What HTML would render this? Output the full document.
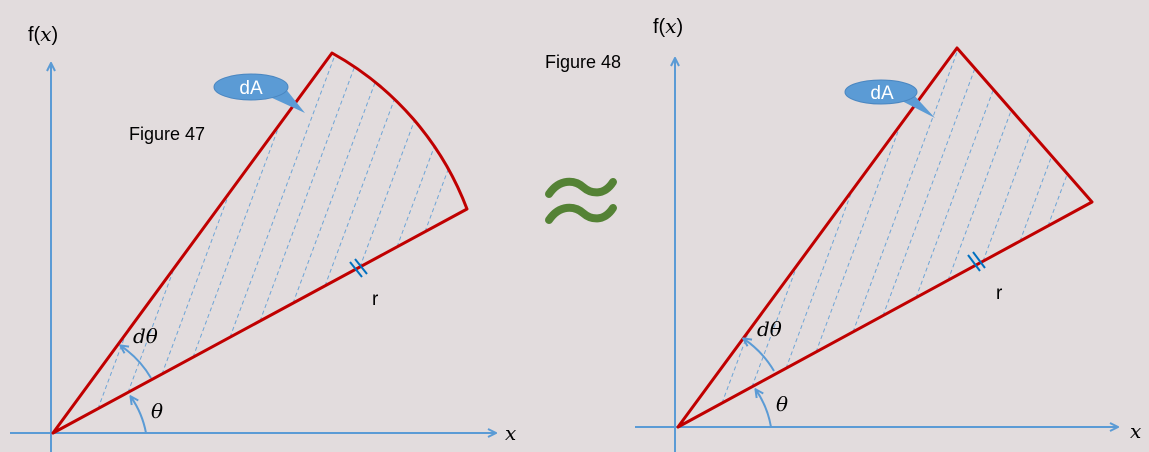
<!DOCTYPE html>
<html><head><meta charset="utf-8"><style>
html,body{margin:0;padding:0;background:#e2dcdd;}
svg{display:block;font-family:"Liberation Sans","DejaVu Sans",sans-serif;}
.ax{stroke:#5b9bd5;stroke-width:2;fill:none}
.red{stroke:#c00000;stroke-width:3;fill:none;stroke-linejoin:round}
.hatch{stroke:#5b9bd5;stroke-width:1;stroke-dasharray:4 3;fill:none;opacity:0.85}
.math{font-family:"DejaVu Serif","Liberation Serif",serif;font-style:italic;font-size:20px;fill:#000}
</style></head><body>
<svg id="s" width="1149" height="452" viewBox="0 0 1149 452">
<defs>
<marker id="ah" markerWidth="10" markerHeight="10" refX="8" refY="5" orient="auto" markerUnits="userSpaceOnUse"><path d="M1,1 L9,5 L1,9" fill="none" stroke="#5b9bd5" stroke-width="2"/></marker>
<clipPath id="c1"><path d="M53,433 L332,53 A300,300 0 0 1 467,209 Z"/></clipPath>
<clipPath id="c2"><path d="M678,427 L957,48 L1092,202 Z"/></clipPath>
</defs>
<g>
<line class="ax" x1="51" y1="452" x2="51" y2="64" marker-end="url(#ah)"/>
<line class="ax" x1="10" y1="433" x2="495" y2="433" marker-end="url(#ah)"/>
<g id="h1" clip-path="url(#c1)"></g>
<path class="red" d="M53,433 L332,53 A300,300 0 0 1 467,209 Z"/>
<path d="M146,433 A93,93 0 0 0 131,397" class="ax" stroke-width="3" marker-end="url(#ah)"/>
<path d="M151,378 A100,100 0 0 0 121,346" class="ax" stroke-width="3" marker-end="url(#ah)"/>
<line x1="350" y1="262" x2="362" y2="277" stroke="#0070c0" stroke-width="2"/><line x1="355" y1="259" x2="367" y2="274" stroke="#0070c0" stroke-width="2"/>
<path d="M270,97 L305,113 L285,88 Z" fill="#5b9bd5"/>
<ellipse cx="251" cy="87" rx="37" ry="13" fill="#5b9bd5" stroke="#4a86c0"/>
<text x="251" y="94" font-size="19" fill="#fff" text-anchor="middle">dA</text>
<text x="129" y="140" font-size="18">Figure 47</text>
<text x="28" y="41" font-size="20">f(<tspan class="math">x</tspan>)</text>
<text x="151" y="418" class="math">θ</text>
<text x="133" y="343" class="math">dθ</text>
<text x="372" y="305" font-size="19">r</text>
</g>
<g fill="none" stroke="#548235" stroke-width="8" stroke-linecap="round">
<path d="M549,194 C560,178 575,180 583,187 C591,194 604,196 613,182"/>
<path d="M549,220 C560,204 575,206 583,213 C591,220 604,222 613,208"/>
</g>
<text x="545" y="68" font-size="18">Figure 48</text>
<g>
<line class="ax" x1="675" y1="452" x2="675" y2="59" marker-end="url(#ah)"/>
<line class="ax" x1="635" y1="427" x2="1117" y2="427" marker-end="url(#ah)"/>
<g id="h2" clip-path="url(#c2)"></g>
<path class="red" d="M678,427 L957,48 L1092,202 Z"/>
<path d="M771,427 A93,93 0 0 0 756,390" class="ax" stroke-width="3" marker-end="url(#ah)"/>
<path d="M774,371 A100,100 0 0 0 744,339" class="ax" stroke-width="3" marker-end="url(#ah)"/>
<line x1="968" y1="255" x2="980" y2="271" stroke="#0070c0" stroke-width="2"/><line x1="973" y1="252" x2="985" y2="268" stroke="#0070c0" stroke-width="2"/>
<path d="M900,100 L935,118 L912,93 Z" fill="#5b9bd5"/>
<ellipse cx="881" cy="92" rx="36" ry="12" fill="#5b9bd5" stroke="#4a86c0"/>
<text x="882" y="99" font-size="19" fill="#fff" text-anchor="middle">dA</text>
<text x="653" y="33" font-size="20">f(<tspan class="math">x</tspan>)</text>
<text x="1130" y="438" class="math">x</text>
<text x="776" y="411" class="math">θ</text>
<text x="757" y="336" class="math">dθ</text>
<text x="996" y="299" font-size="19">r</text>
</g>
<text x="505" y="440" class="math">x</text>
</svg>
<script>
const hatchStartsLeft=[98,128,162,193,230,260,293,325,360,397,425];
const hatchStartsRight=[722,752,786,816,853,883,916,948,983,1020,1048];
function addHatch(id,ox,oy,ex,ey,starts){
  const g=document.getElementById(id);
  const dx=77,dy=-207,L=Math.hypot(dx,dy);
  starts.forEach(function(x){
    const t=(x-ox)/(ex-ox);const y=oy+t*(ey-oy);
    const l=document.createElementNS('http://www.w3.org/2000/svg','line');
    l.setAttribute('x1',x);l.setAttribute('y1',y);
    l.setAttribute('x2',x+dx/L*400);l.setAttribute('y2',y+dy/L*400);
    l.setAttribute('class','hatch');
    
    
    g.appendChild(l);
  });
}
addHatch('h1',53,433,467,209,hatchStartsLeft);
addHatch('h2',678,427,1092,202,hatchStartsRight);
</script>
</body></html>
